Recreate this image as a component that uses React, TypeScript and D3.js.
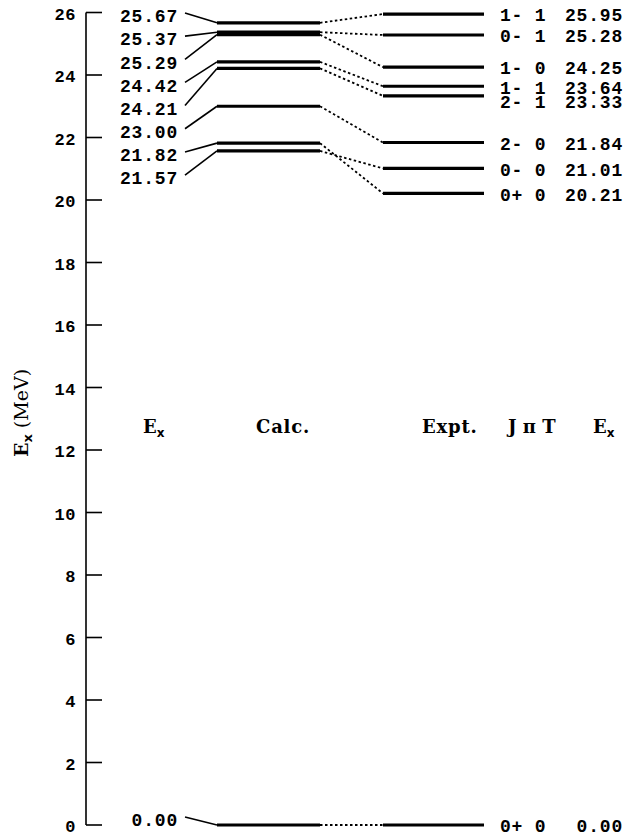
import React from "react";
import * as d3 from "d3";

// ---- Data ----
const calcEnergies = [25.67, 25.37, 25.29, 24.42, 24.21, 23.0, 21.82, 21.57, 0.0];
const exptEnergies = [25.95, 25.28, 24.25, 23.64, 23.33, 21.84, 21.01, 20.21, 0.0];
const exptJpiT = ["1- 1", "0- 1", "1- 0", "1- 1", "2- 1", "2- 0", "0- 0", "0+ 0", "0+ 0"];
// calc level index -> expt level index
const linkCalc = [0, 1, 2, 3, 4, 5, 6, 7, 8];
const linkExpt = [0, 1, 2, 3, 4, 5, 7, 6, 8];
const yTicks = [0, 2, 4, 6, 8, 10, 12, 14, 16, 18, 20, 22, 24, 26];
const headers = ["Calc.", "Expt.", "J π T"];

const W = 626;
const H = 840;

// push labels downward so they keep a minimal gap (layout only)
function spreadDown(ys: number[], gap: number): number[] {
  const out = ys.slice();
  for (let i = 1; i < out.length; i++) {
    if (out[i] - out[i - 1] < gap) out[i] = out[i - 1] + gap;
  }
  return out;
}

export default function App() {
  const y = d3.scaleLinear().domain([0, 26]).range([825, 12.5]);

  const axisX = 86;
  const tickLen = 16;
  const calcX0 = 217;
  const calcX1 = 320;
  const exptX0 = 383;
  const exptX1 = 484;
  const leaderX0 = 185;
  const leftLabelX = 178;
  const jptX = 500;
  const valX = 623;

  const mono = "'Liberation Mono', 'DejaVu Sans Mono', monospace";
  const serif = "'DejaVu Serif', 'Liberation Serif', serif";
  const fs = 18;
  const ls = 0.8;

  const leftLabelY = (i: number, e: number) =>
    e === 0 ? y(0) - 5 : 16 + i * 23.15;

  const rightLabelY = spreadDown(exptEnergies.map((e) => y(e) + 1), 14);

  return (
    <div style={{ position: "absolute", left: 0, top: 0, width: W, height: H, background: "#fff" }}>
      <svg width={W} height={H} style={{ display: "block" }}>
        <rect width={W} height={H} fill="#fff" />
        {/* axis */}
        <line x1={axisX} x2={axisX} y1={y(26)} y2={y(0)} stroke="#000" strokeWidth={1.6} />
        {yTicks.map((t) => (
          <g key={t}>
            <line x1={axisX} x2={axisX + tickLen} y1={y(t)} y2={y(t)} stroke="#000" strokeWidth={1.6} />
            <text
              x={76}
              y={y(t) + 1.5}
              dy="0.35em"
              textAnchor="end"
              fontFamily={mono}
              fontWeight="bold"
              fontSize={17}
              letterSpacing={0.6}
            >
              {t}
            </text>
          </g>
        ))}

        {/* y axis title */}
        <text
          transform={`translate(28, ${413}) rotate(-90)`}
          textAnchor="middle"
          fontFamily={serif}
          fontSize={19}
        >
          <tspan fontWeight="bold">E</tspan>
          <tspan fontWeight="bold" fontSize={13} fontFamily="'DejaVu Sans', sans-serif" dy={4}>x</tspan>
          <tspan dy={-4}> (MeV)</tspan>
        </text>

        {/* calc levels, leaders, labels */}
        {calcEnergies.map((e, i) => {
          const ly = leftLabelY(i, e);
          return (
            <g key={"c" + i}>
              <text
                x={leftLabelX}
                y={ly}
                dy="0.35em"
                textAnchor="end"
                fontFamily={mono}
                fontWeight="bold"
                fontSize={fs}
                letterSpacing={ls}
              >
                {e.toFixed(2)}
              </text>
              <line x1={leaderX0} y1={ly - 3} x2={calcX0} y2={y(e)} stroke="#000" strokeWidth={1.6} />
              <line x1={calcX0} x2={calcX1} y1={y(e)} y2={y(e)} stroke="#000" strokeWidth={3.2} />
            </g>
          );
        })}

        {/* expt levels and labels */}
        {exptEnergies.map((e, i) => (
          <g key={"e" + i}>
            <line x1={exptX0} x2={exptX1} y1={y(e)} y2={y(e)} stroke="#000" strokeWidth={3.2} />
            <text
              x={jptX}
              y={rightLabelY[i]}
              dy="0.35em"
              fontFamily={mono}
              fontWeight="bold"
              fontSize={fs}
              letterSpacing={ls}
              style={{ whiteSpace: "pre" }}
            >
              {exptJpiT[i]}
            </text>
            <text
              x={valX}
              y={rightLabelY[i]}
              dy="0.35em"
              textAnchor="end"
              fontFamily={mono}
              fontWeight="bold"
              fontSize={fs}
              letterSpacing={ls}
            >
              {e.toFixed(2)}
            </text>
          </g>
        ))}

        {/* dotted links */}
        {linkCalc.map((c, k) => (
          <line
            key={"l" + k}
            x1={calcX1}
            y1={y(calcEnergies[c])}
            x2={exptX0}
            y2={y(exptEnergies[linkExpt[k]])}
            stroke="#000"
            strokeWidth={1.8}
            strokeDasharray="2.5,2.5"
          />
        ))}

        {/* column headers */}
        <text x={143} y={433} fontFamily={serif} fontWeight="bold" fontSize={18}>
          E<tspan fontSize={12} fontFamily="'DejaVu Sans', sans-serif" dy={4}>x</tspan>
        </text>
        <text x={256} y={433} fontFamily={serif} fontWeight="bold" fontSize={18} letterSpacing={0.8}>
          {headers[0]}
        </text>
        <text x={422} y={433} fontFamily={serif} fontWeight="bold" fontSize={18} letterSpacing={0.8}>
          {headers[1]}
        </text>
        <text x={508} y={433} fontFamily={serif} fontWeight="bold" fontSize={18}>
          {headers[2]}
        </text>
        <text x={593} y={433} fontFamily={serif} fontWeight="bold" fontSize={18}>
          E<tspan fontSize={12} fontFamily="'DejaVu Sans', sans-serif" dy={4}>x</tspan>
        </text>
      </svg>
    </div>
  );
}
